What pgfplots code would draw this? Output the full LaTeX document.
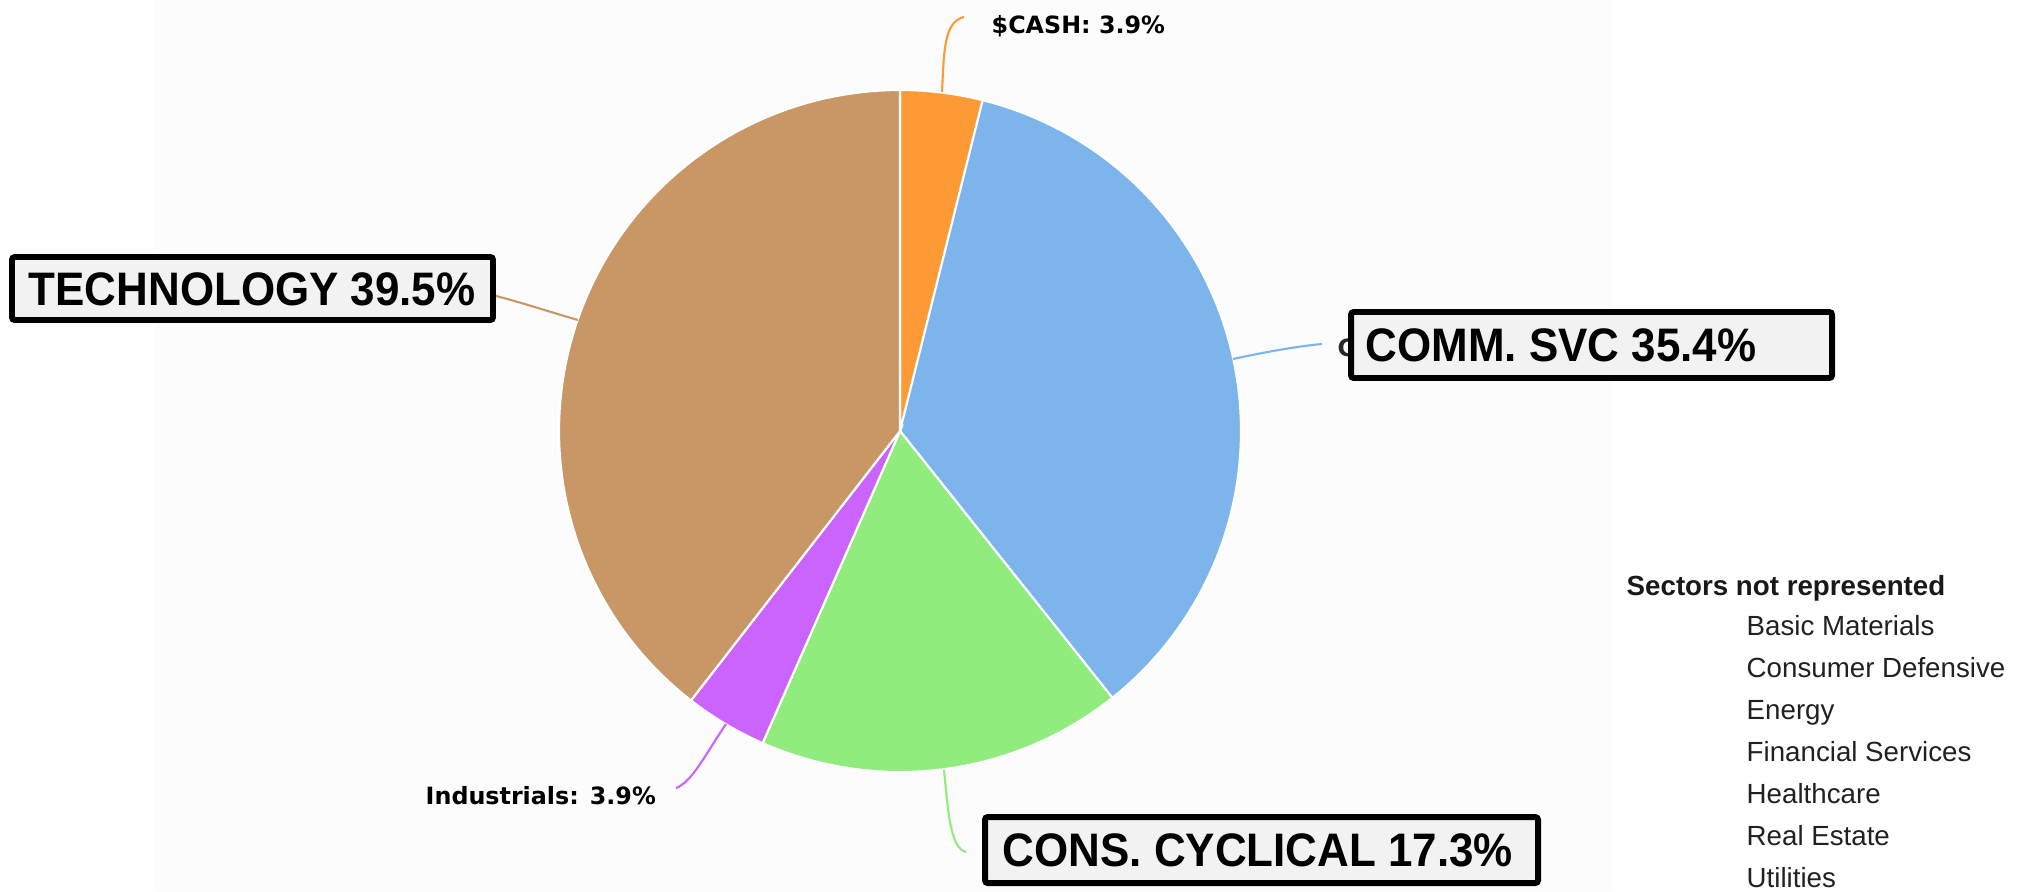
\documentclass[border=0pt]{standalone}
\usepackage{pgfplots}
\pgfplotsset{compat=1.18}
\usepackage{fontspec}
\usepackage{graphicx}
\setmainfont{Liberation Sans}
\newfontfamily\dv{DejaVu Sans}
\definecolor{cCash}{HTML}{FD9A35}
\definecolor{cComm}{HTML}{7CB4EB}
\definecolor{cCons}{HTML}{90EC7D}
\definecolor{cInd}{HTML}{CB64FC}
\definecolor{cTech}{HTML}{C99766}
\definecolor{boxfill}{HTML}{F2F2F2}
\definecolor{bg}{HTML}{FCFCFC}
% slice values in percent (clockwise from the top)
\def\vCash{3.9}
\def\vComm{35.4}
\def\vCons{17.3}
\def\vInd{3.9}
\def\vTech{39.5}
\newcommand\boxlabel[1]{\scalebox{1}[1.07]{#1}}
\begin{document}
\begin{tikzpicture}
\pgfmathsetmacro\aA{90}
\pgfmathsetmacro\aB{\aA-3.6*\vCash}
\pgfmathsetmacro\aC{\aB-3.6*\vComm}
\pgfmathsetmacro\aD{\aC-3.6*\vCons}
\pgfmathsetmacro\aE{\aD-3.6*\vInd}
\pgfmathsetmacro\aF{\aE-3.6*\vTech}
\begin{axis}[width=20.19cm, height=8.91cm, scale only axis,
  xmin=0, xmax=2019, ymin=0, ymax=891, y dir=reverse,
  hide axis, clip=false]
\fill[white] (axis cs:0,0) rectangle (axis cs:2019,891);
\fill[bg] (axis cs:155,0) rectangle (axis cs:1612,891);
\coordinate (bl) at (axis cs:0,891);
\coordinate (tr) at (axis cs:2019,0);
% wedges
\addplot[fill=cCash, draw=white, line width=0.6pt, domain=\aB:\aA, samples=20, variable=\t]
  ({900+341*cos(\t)},{431-341*sin(\t)}) -- (axis cs:900,431) -- cycle;
\addplot[fill=cComm, draw=white, line width=0.6pt, domain=\aC:\aB, samples=80, variable=\t]
  ({900+341*cos(\t)},{431-341*sin(\t)}) -- (axis cs:900,431) -- cycle;
\addplot[fill=cCons, draw=white, line width=0.6pt, domain=\aD:\aC, samples=50, variable=\t]
  ({900+341*cos(\t)},{431-341*sin(\t)}) -- (axis cs:900,431) -- cycle;
\addplot[fill=cInd, draw=white, line width=0.6pt, domain=\aE:\aD, samples=20, variable=\t]
  ({900+341*cos(\t)},{431-341*sin(\t)}) -- (axis cs:900,431) -- cycle;
\addplot[fill=cTech, draw=white, line width=0.6pt, domain=\aF:\aE, samples=90, variable=\t]
  ({900+341*cos(\t)},{431-341*sin(\t)}) -- (axis cs:900,431) -- cycle;
% connectors
\draw[cCash, line width=0.6pt] (axis cs:942,92) .. controls (axis cs:944,50) and (axis cs:944,22) .. (axis cs:964,17);
\draw[cComm, line width=0.6pt] (axis cs:1233,359) .. controls (axis cs:1270,351) and (axis cs:1300,346) .. (axis cs:1322,344);
\draw[cCons, line width=0.6pt] (axis cs:944,770) .. controls (axis cs:948,810) and (axis cs:950,848) .. (axis cs:966,852);
\draw[cInd, line width=0.6pt] (axis cs:726,724) .. controls (axis cs:705,755) and (axis cs:692,782) .. (axis cs:676,788);
\draw[cTech, line width=0.6pt] (axis cs:578,320) .. controls (axis cs:550,312) and (axis cs:520,302) .. (axis cs:496,296);
% pie labels
\node[anchor=base west, inner sep=0pt, font=\dv\bfseries\fontsize{6.77pt}{8pt}\selectfont] at (axis cs:991,33) {\$CASH: 3.9\%};
\node[anchor=base west, inner sep=0pt, font=\dv\bfseries\fontsize{6.77pt}{8pt}\selectfont] at (axis cs:425,804) {Industrials: 3.9\%};
\node[anchor=base west, inner sep=0pt, font=\dv\bfseries\fontsize{6.77pt}{8pt}\selectfont, text=black!85] at (axis cs:1337,356) {C};
% boxed labels
\draw[fill=boxfill, draw=black, line width=1.7pt, rounded corners=0.8pt] (axis cs:12,257) rectangle (axis cs:493,320);
\node[anchor=base west, inner sep=0pt, font=\bfseries\fontsize{12.5pt}{14pt}\selectfont] at (axis cs:28,305) {\boxlabel{TECHNOLOGY 39.5\%}};
\draw[fill=boxfill, draw=black, line width=1.7pt, rounded corners=0.8pt] (axis cs:1351,312) rectangle (axis cs:1832,378);
\node[anchor=base west, inner sep=0pt, font=\bfseries\fontsize{12.5pt}{14pt}\selectfont] at (axis cs:1365,361) {\boxlabel{COMM. SVC 35.4\%}};
\draw[fill=boxfill, draw=black, line width=1.7pt, rounded corners=0.8pt] (axis cs:985,817) rectangle (axis cs:1538,883);
\node[anchor=base west, inner sep=0pt, font=\bfseries\fontsize{12.5pt}{14pt}\selectfont] at (axis cs:1002,866) {\boxlabel{CONS. CYCLICAL 17.3\%}};
% sectors not represented
\node[anchor=base west, inner sep=0pt, font=\bfseries\fontsize{7.88pt}{9pt}\selectfont, text=black!90] at (axis cs:1626,595) {Sectors not represented};
\node[anchor=base west, inner sep=0pt, font=\fontsize{7.88pt}{9pt}\selectfont, text=black!87] at (axis cs:1746,635) {Basic Materials};
\node[anchor=base west, inner sep=0pt, font=\fontsize{7.88pt}{9pt}\selectfont, text=black!87] at (axis cs:1746,677) {Consumer Defensive};
\node[anchor=base west, inner sep=0pt, font=\fontsize{7.88pt}{9pt}\selectfont, text=black!87] at (axis cs:1746,719) {Energy};
\node[anchor=base west, inner sep=0pt, font=\fontsize{7.88pt}{9pt}\selectfont, text=black!87] at (axis cs:1746,761) {Financial Services};
\node[anchor=base west, inner sep=0pt, font=\fontsize{7.88pt}{9pt}\selectfont, text=black!87] at (axis cs:1746,803) {Healthcare};
\node[anchor=base west, inner sep=0pt, font=\fontsize{7.88pt}{9pt}\selectfont, text=black!87] at (axis cs:1746,845) {Real Estate};
\node[anchor=base west, inner sep=0pt, font=\fontsize{7.88pt}{9pt}\selectfont, text=black!87] at (axis cs:1746,887) {Utilities};
\end{axis}
\pgfresetboundingbox
\useasboundingbox (bl) rectangle (tr);
\end{tikzpicture}
\end{document}
